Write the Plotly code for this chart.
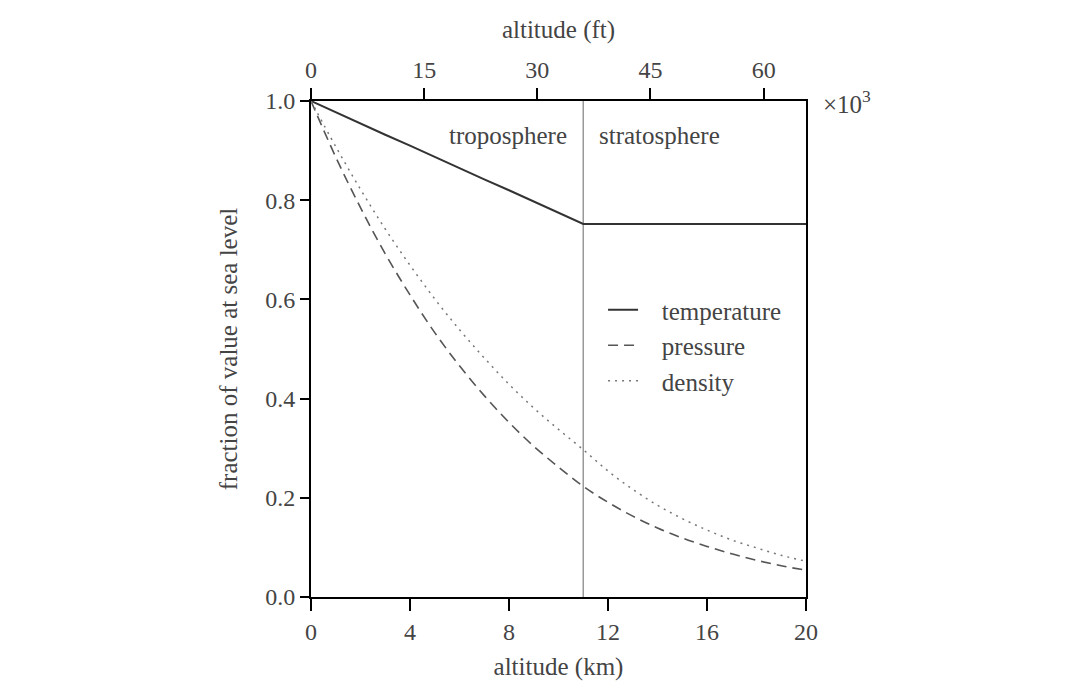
import plotly.graph_objects as go

# ---- data (standard atmosphere ratios) ----
altitude_km = [0, 1, 2, 3, 4, 5, 6, 7, 8, 9, 10, 11, 12, 13, 14, 15, 16, 17, 18, 19, 20]
temperature = [1.000, 0.977, 0.955, 0.932, 0.910, 0.887, 0.865, 0.842, 0.820, 0.797, 0.774, 0.752,
               0.752, 0.752, 0.752, 0.752, 0.752, 0.752, 0.752, 0.752, 0.752]
pressure = [1.000, 0.887, 0.785, 0.692, 0.609, 0.533, 0.466, 0.406, 0.352, 0.304, 0.262, 0.223,
            0.191, 0.163, 0.139, 0.119, 0.102, 0.087, 0.074, 0.063, 0.054]
density = [1.000, 0.908, 0.822, 0.742, 0.669, 0.601, 0.539, 0.482, 0.429, 0.381, 0.338, 0.297,
           0.254, 0.217, 0.185, 0.158, 0.135, 0.115, 0.099, 0.084, 0.072]

tropopause_km = 11
x_km_ticks = [0, 4, 8, 12, 16, 20]
y_ticks = [0.0, 0.2, 0.4, 0.6, 0.8, 1.0]
ft_ticks = [0, 15, 30, 45, 60]          # x10^3 ft
ft_max = 20 * 3.28084                    # top axis spans the same 0-20 km

FONT = "Liberation Serif"
TXT = "#444444"
FS = 25
TFS = 24
PAD = "\u00a0\u00a0\u00a0"

fig = go.Figure()
fig.add_trace(go.Scatter(x=altitude_km, y=temperature, mode="lines", name=PAD + "temperature",
                         line=dict(color="#333333", width=2), legendgroup="a"))
fig.add_trace(go.Scatter(x=altitude_km, y=pressure, mode="lines", name=PAD + "pressure",
                         line=dict(color="#555555", width=1.6, dash="10px,6px", shape="spline"),
                         legendgroup="b"))
fig.add_trace(go.Scatter(x=altitude_km, y=density, mode="lines", name=PAD + "density",
                         line=dict(color="#777777", width=1.5, dash="2px,5px", shape="spline"),
                         legendgroup="c"))
# invisible trace so the top (feet) axis is drawn
fig.add_trace(go.Scatter(x=[0, ft_max], y=[None, None], xaxis="x2", yaxis="y",
                         mode="lines", showlegend=False, hoverinfo="skip"))

fig.add_shape(type="line", x0=tropopause_km, x1=tropopause_km, y0=0, y1=1,
              xref="x", yref="paper", line=dict(color="#999999", width=1.5), layer="below")

fig.add_annotation(x=tropopause_km, y=0.93, xref="x", yref="y", text="troposphere",
                   showarrow=False, xanchor="right", xshift=-14,
                   font=dict(family=FONT, size=FS, color=TXT))
fig.add_annotation(x=tropopause_km, y=0.93, xref="x", yref="y", text="stratosphere",
                   showarrow=False, xanchor="left", xshift=14,
                   font=dict(family=FONT, size=FS, color=TXT))
fig.add_annotation(x=1, y=1, xref="paper", yref="paper", text="×10<sup>3</sup>",
                   showarrow=False, xanchor="left", yanchor="middle", xshift=15, yshift=-1,
                   font=dict(family=FONT, size=FS, color=TXT))

axis_common = dict(showline=True, linecolor="black", linewidth=2, ticks="outside",
                   tickcolor="black", tickwidth=2, showgrid=False, zeroline=False,
                   automargin=False,
                   tickfont=dict(family=FONT, size=TFS, color=TXT))

fig.update_layout(
    width=1090, height=682,
    margin=dict(l=311, r=284, t=101, b=85),
    paper_bgcolor="white", plot_bgcolor="white",
    showlegend=True,
    legend=dict(x=0.59, y=0.625, xanchor="left", yanchor="top",
                font=dict(family=FONT, size=FS, color=TXT),
                bgcolor="rgba(0,0,0,0)", tracegroupgap=0, itemwidth=30),
    xaxis=dict(range=[0, 20], tickvals=x_km_ticks, ticklen=12,
               title=dict(text="altitude (km)", standoff=14,
                          font=dict(family=FONT, size=FS, color=TXT)),
               **axis_common),
    xaxis2=dict(range=[0, ft_max], tickvals=ft_ticks, overlaying="x", side="top",
                ticklen=11, anchor="y",
                title=dict(text="altitude (ft)", standoff=12,
                           font=dict(family=FONT, size=FS, color=TXT)),
                **axis_common),
    yaxis=dict(range=[0, 1], tickvals=y_ticks, tickformat=".1f", ticklen=9, mirror=True,
               title=dict(text="fraction of value at sea level", standoff=20,
                          font=dict(family=FONT, size=FS, color=TXT)),
               **axis_common),
)

fig.write_html("out.html")
